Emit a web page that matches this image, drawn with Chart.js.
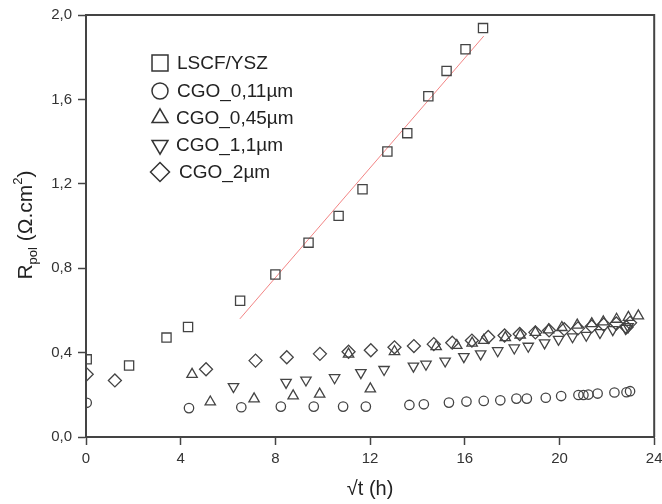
<!DOCTYPE html>
<html>
<head>
<meta charset="utf-8">
<script src="https://cdn.jsdelivr.net/npm/chart.js@4.4.1/dist/chart.umd.min.js"></script>
<style>
  html, body { margin: 0; padding: 0; background: #fff; }
  #diagram { width: 662px; height: 504px; }
</style>
</head>
<body>
<div id="diagram">
  <canvas id="chart" width="662" height="504"></canvas>
</div>
<script>
// values: x = sqrt(t) in h, y = Rpol in ohm.cm2
const lscfX = [0.03, 1.82, 3.40, 4.31, 6.51, 8.0, 9.40, 10.67, 11.68, 12.73, 13.57, 14.46, 15.23, 16.03, 16.77];
const lscfY = [0.368, 0.339, 0.471, 0.521, 0.646, 0.770, 0.921, 1.048, 1.174, 1.353, 1.440, 1.615, 1.735, 1.838, 1.938];

const fitX = [6.5, 16.8];
const fitY = [0.56, 1.90];

const cgo011X = [0.03, 4.35, 6.56, 8.23, 9.62, 10.86, 11.82, 13.66, 14.27, 15.33, 16.07, 16.8, 17.5, 18.18, 18.62, 19.42, 20.07, 20.80, 21.01, 21.22, 21.61, 22.32, 22.83, 22.98];
const cgo011Y = [0.162, 0.137, 0.141, 0.144, 0.144, 0.144, 0.144, 0.152, 0.155, 0.163, 0.168, 0.171, 0.174, 0.182, 0.182, 0.186, 0.194, 0.199, 0.199, 0.201, 0.206, 0.211, 0.212, 0.217];

const cgo045X = [4.48, 5.25, 7.10, 8.75, 9.87, 11.09, 12.01, 13.03, 14.79, 15.66, 16.31, 16.80, 17.71, 18.34, 18.98, 19.54, 20.10, 20.75, 21.36, 21.85, 22.41, 22.91, 23.33];
const cgo045Y = [0.297, 0.166, 0.181, 0.195, 0.203, 0.393, 0.228, 0.405, 0.428, 0.434, 0.445, 0.458, 0.471, 0.483, 0.496, 0.508, 0.519, 0.530, 0.537, 0.546, 0.558, 0.567, 0.574];

const cgo11X = [6.23, 8.45, 9.29, 10.5, 11.61, 12.59, 13.83, 14.36, 15.17, 15.96, 16.67, 17.39, 18.09, 18.68, 19.37, 19.96, 20.55, 21.13, 21.71, 22.25, 22.79, 22.9];
const cgo11Y = [0.239, 0.259, 0.270, 0.281, 0.305, 0.320, 0.336, 0.345, 0.360, 0.381, 0.394, 0.409, 0.422, 0.430, 0.446, 0.463, 0.475, 0.482, 0.495, 0.509, 0.515, 0.523];

const cgo2X = [0.03, 1.22, 5.07, 7.16, 8.48, 9.88, 11.09, 12.03, 13.03, 13.85, 14.69, 15.47, 16.30, 16.99, 17.68, 18.32, 18.98, 19.56, 20.2, 20.78, 21.36, 21.87, 22.4, 22.83, 22.98];
const cgo2Y = [0.297, 0.268, 0.321, 0.362, 0.378, 0.394, 0.404, 0.411, 0.425, 0.431, 0.440, 0.447, 0.457, 0.474, 0.481, 0.488, 0.496, 0.505, 0.511, 0.515, 0.524, 0.533, 0.538, 0.52, 0.541];

const seriesNames = ['LSCF/YSZ', 'CGO_0,11µm', 'CGO_0,45µm', 'CGO_1,1µm', 'CGO_2µm'];
const xTicks = [0, 4, 8, 12, 16, 20, 24];
const yTicks = [0, 0.4, 0.8, 1.2, 1.6, 2.0];

const toPoints = (xs, ys) => xs.map((x, i) => ({ x: x, y: ys[i] }));

const FONT = '"Liberation Sans", Arial, sans-serif';
const INK = '#444';
Chart.defaults.font.family = FONT;

const markerSet = (style, radius, rotation) => ({
    type: 'scatter',
    showLine: false,
    pointStyle: style,
    pointRadius: radius,
    pointHoverRadius: radius,
    rotation: rotation || 0,
    borderColor: INK,
    backgroundColor: 'rgba(0,0,0,0)',
    pointBorderWidth: 1.3,
    clip: 0,
});

// legend inside the plot, titles with sub/superscripts, and the closed frame
const extras = {
    id: 'extras',
    afterDraw(chart) {
        const ctx = chart.ctx;
        const a = chart.chartArea;
        ctx.save();

        ctx.strokeStyle = INK;
        ctx.lineWidth = 2;
        ctx.beginPath();
        ctx.moveTo(a.left, a.top);
        ctx.lineTo(a.right, a.top);
        ctx.lineTo(a.right, a.bottom);
        ctx.stroke();

        // legend
        const rows = [63, 91, 118, 145, 172];
        const textX = [177, 177, 176, 176, 179];
        const legendMarks = [
            { style: 'rect', r: 11.3, rot: 0 },
            { style: 'circle', r: 8, rot: 0 },
            { style: 'triangle', r: 9.2, rot: 0 },
            { style: 'triangle', r: 9.2, rot: 180 },
            { style: 'rectRot', r: 9.5, rot: 0 },
        ];
        ctx.font = '19px ' + FONT;
        ctx.textBaseline = 'middle';
        ctx.textAlign = 'left';
        seriesNames.forEach((name, i) => {
            const m = legendMarks[i];
            ctx.strokeStyle = '#333';
            ctx.fillStyle = 'rgba(0,0,0,0)';
            ctx.lineWidth = 1.5;
            Chart.helpers.drawPoint(ctx, { pointStyle: m.style, radius: m.r, rotation: m.rot, borderWidth: 1.5 }, 160, rows[i]);
            ctx.fillStyle = '#222';
            ctx.fillText(name, textX[i], rows[i] + 1);
        });

        // x title
        ctx.fillStyle = '#222';
        ctx.font = '20px ' + FONT;
        ctx.textAlign = 'center';
        ctx.textBaseline = 'middle';
        ctx.fillText('√t (h)', (a.left + a.right) / 2, 489);

        // y title: R_pol (Ω.cm²)
        const big = '21px ' + FONT;
        const small = '13px ' + FONT;
        const parts = [
            { t: 'R', f: big, dy: 0 },
            { t: 'pol', f: small, dy: 5 },
            { t: ' (Ω.cm', f: big, dy: 0 },
            { t: '2', f: small, dy: -10 },
            { t: ')', f: big, dy: 0 },
        ];
        let total = 0;
        parts.forEach(p => { ctx.font = p.f; p.w = ctx.measureText(p.t).width; total += p.w; });
        ctx.translate(32, 225);
        ctx.rotate(-Math.PI / 2);
        ctx.textAlign = 'left';
        ctx.textBaseline = 'alphabetic';
        let cx = -total / 2;
        parts.forEach(p => {
            ctx.font = p.f;
            ctx.fillText(p.t, cx, p.dy);
            cx += p.w;
        });
        ctx.restore();
    }
};

const ctx = document.getElementById('chart').getContext('2d');
new Chart(ctx, {
    data: {
        datasets: [
            Object.assign(markerSet('rect', 6.5), { label: seriesNames[0], data: toPoints(lscfX, lscfY) }),
            {
                type: 'line',
                label: 'fit',
                data: toPoints(fitX, fitY),
                borderColor: 'rgba(240, 110, 110, 0.85)',
                borderWidth: 1,
                pointRadius: 0,
                fill: false,
            },
            Object.assign(markerSet('circle', 4.7), { label: seriesNames[1], data: toPoints(cgo011X, cgo011Y) }),
            Object.assign(markerSet('triangle', 6), { label: seriesNames[2], data: toPoints(cgo045X, cgo045Y) }),
            Object.assign(markerSet('triangle', 6, 180), { label: seriesNames[3], data: toPoints(cgo11X, cgo11Y) }),
            Object.assign(markerSet('rectRot', 6.5), { label: seriesNames[4], data: toPoints(cgo2X, cgo2Y) }),
        ],
    },
    options: {
        responsive: false,
        animation: false,
        events: [],
        layout: { padding: { top: 15, right: 7, left: 0, bottom: 0 } },
        plugins: {
            legend: { display: false },
            tooltip: { enabled: false },
        },
        scales: {
            x: {
                type: 'linear',
                min: xTicks[0],
                max: xTicks[xTicks.length - 1],
                afterBuildTicks: (scale) => { scale.ticks = xTicks.map(v => ({ value: v })); },
                afterFit: (scale) => {
                    scale.height = 67;
                    // let the last label run past the edge, as in the original
                    scale.paddingLeft = 0;
                    scale.paddingRight = 0;
                },
                ticks: {
                    color: '#333',
                    font: { size: 15 },
                    padding: 5,
                    maxRotation: 0,
                    callback: (v) => String(v),
                },
                grid: { drawOnChartArea: false, tickLength: 8, tickColor: INK, tickWidth: 1.5 },
                border: { color: INK, width: 2 },
            },
            y: {
                type: 'linear',
                min: yTicks[0],
                max: yTicks[yTicks.length - 1],
                afterBuildTicks: (scale) => { scale.ticks = yTicks.map(v => ({ value: v })); },
                afterFit: (scale) => {
                    scale.width = 86;
                    scale.paddingTop = 0;
                    scale.paddingBottom = 0;
                },
                ticks: {
                    color: '#333',
                    font: { size: 15 },
                    padding: 6,
                    callback: (v) => Number(v).toFixed(1).replace('.', ','),
                },
                grid: { drawOnChartArea: false, tickLength: 8, tickColor: INK, tickWidth: 1.5 },
                border: { color: INK, width: 2 },
            },
        },
    },
    plugins: [extras],
});
</script>
</body>
</html>
